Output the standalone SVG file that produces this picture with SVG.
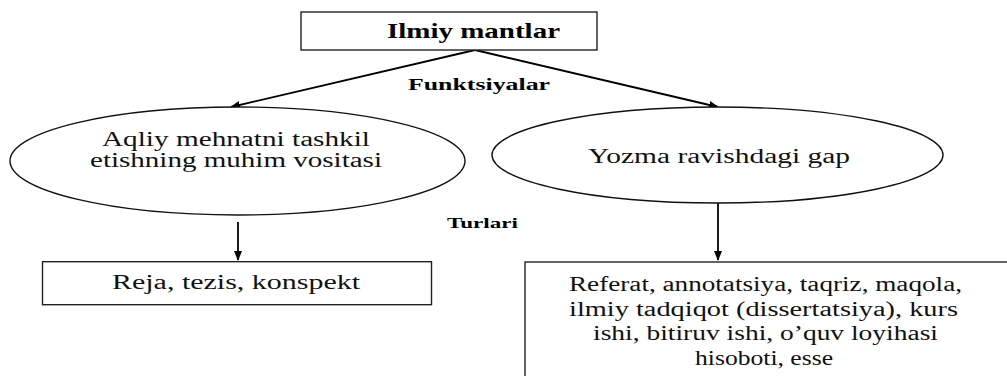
<svg xmlns="http://www.w3.org/2000/svg" width="1007" height="376" viewBox="0 0 1007 376">
  <style>
    .box { fill: #ffffff; stroke: #222222; stroke-width: 1.4; }
    .ell { fill: #ffffff; stroke: #111111; stroke-width: 1.4; }
    .conn { fill: none; stroke: #000000; stroke-width: 1.8; }
    text { font-family: 'Liberation Serif', 'DejaVu Serif', 'Times New Roman', serif; }
    .t { font-size: 20.5px; fill: #111111; }
    .b { font-weight: bold; fill: #000000; }
  </style>
  <defs>
    <marker id="arr" markerWidth="10" markerHeight="8" refX="9" refY="4" orient="auto" markerUnits="userSpaceOnUse">
      <path d="M0,0 L10,4 L0,8 Z" fill="#000000"/>
    </marker>
  </defs>
  <rect x="0" y="0" width="1007" height="376" fill="#ffffff"/>

  <g id="connectors">
    <line class="conn" x1="475" y1="50" x2="231" y2="107" marker-end="url(#arr)"/>
    <line class="conn" x1="475" y1="50" x2="718" y2="107" marker-end="url(#arr)"/>
    <line class="conn" x1="238" y1="222" x2="238" y2="260" marker-end="url(#arr)"/>
    <line class="conn" x1="718" y1="203" x2="718" y2="260" marker-end="url(#arr)"/>
  </g>

  <g id="node-ilmiy">
    <rect class="box" x="301" y="12" width="296" height="38"/>
    <text class="b" x="387" y="38" font-size="21" font-family="Liberation Serif" textLength="173" lengthAdjust="spacingAndGlyphs">Ilmiy mantlar</text>
  </g>

  <g id="label-funktsiyalar">
    <text class="b" x="408" y="90" font-size="16" font-family="Liberation Serif" textLength="142" lengthAdjust="spacingAndGlyphs">Funktsiyalar</text>
  </g>

  <g id="node-aqliy">
    <ellipse class="ell" cx="237.5" cy="161" rx="227.5" ry="54"/>
    <text class="t" x="102" y="145.5" font-family="Liberation Serif" textLength="268" lengthAdjust="spacingAndGlyphs">Aqliy mehnatni tashkil</text>
    <text class="t" x="90" y="166.7" font-family="Liberation Serif" textLength="292" lengthAdjust="spacingAndGlyphs">etishning muhim vositasi</text>
  </g>

  <g id="node-yozma">
    <ellipse class="ell" cx="717.5" cy="155" rx="225.5" ry="48"/>
    <text class="t" x="588" y="163" font-family="Liberation Serif" textLength="262" lengthAdjust="spacingAndGlyphs">Yozma ravishdagi gap</text>
  </g>

  <g id="label-turlari">
    <text class="b" x="447" y="228" font-size="15" font-family="Liberation Serif" textLength="71" lengthAdjust="spacingAndGlyphs">Turlari</text>
  </g>

  <g id="node-reja">
    <rect class="box" x="42.5" y="261.7" width="389" height="43"/>
    <text class="t" x="112" y="288.5" font-family="Liberation Serif" textLength="248" lengthAdjust="spacingAndGlyphs">Reja, tezis, konspekt</text>
  </g>

  <g id="node-referat">
    <rect class="box" x="525" y="262" width="495" height="130"/>
    <text class="t" x="569" y="291" font-family="Liberation Serif" textLength="393" lengthAdjust="spacingAndGlyphs">Referat, annotatsiya, taqriz, maqola,</text>
    <text class="t" x="569" y="315.5" font-family="Liberation Serif" textLength="389" lengthAdjust="spacingAndGlyphs">ilmiy tadqiqot (dissertatsiya), kurs</text>
    <text class="t" x="593" y="340" font-family="Liberation Serif" textLength="345" lengthAdjust="spacingAndGlyphs">ishi, bitiruv ishi, o’quv loyihasi</text>
    <text class="t" x="695" y="364.5" font-family="Liberation Serif" textLength="138" lengthAdjust="spacingAndGlyphs">hisoboti, esse</text>
  </g>
</svg>
